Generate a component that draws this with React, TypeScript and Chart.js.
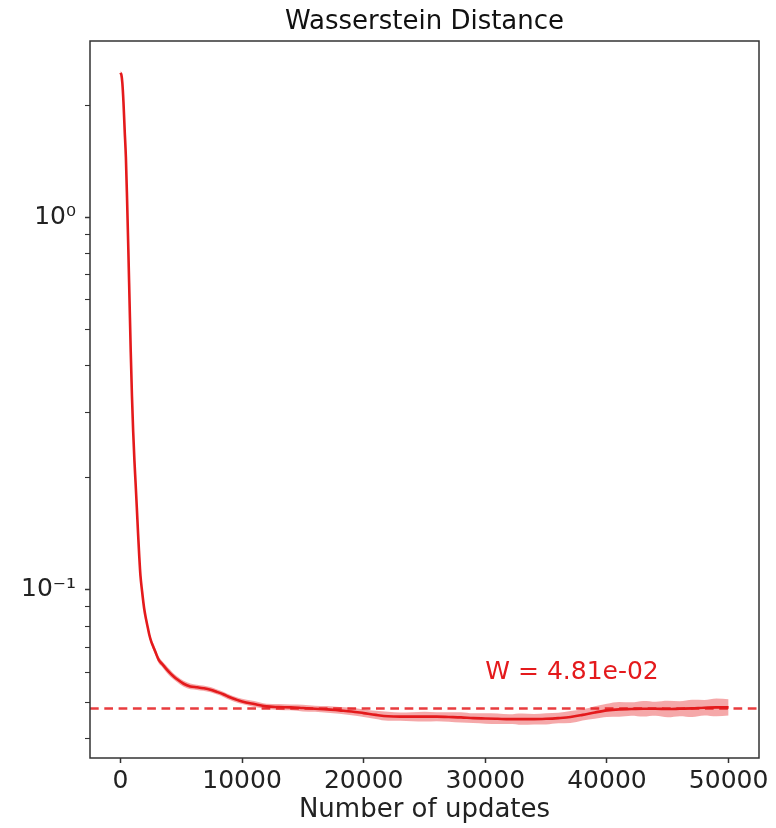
import React, { useEffect, useRef } from "react";
import { Chart, registerables } from "chart.js";

Chart.register(...registerables);

// ---- data ----
const updates = [
  0, 80, 160, 250, 350, 450, 550, 650, 750, 850, 950, 1050, 1150, 1250, 1350, 1450, 1550, 1650, 1780, 1950,
  2110, 2250, 2380, 2550, 2700, 2880, 3150, 3430, 3750, 4110, 4400, 4660, 5200, 5750, 6300, 6800, 7400, 7900,
  8500, 9000, 9500, 10000, 11000, 12000, 13000, 14000, 15000, 16000, 17000, 18000, 19000, 20000, 21000, 22000,
  23000, 24000, 25000, 26000, 27000, 28000, 29000, 30000, 31000, 32000, 33000, 34000, 35000, 36000, 37000,
  38000, 39000, 40000, 41000, 42000, 43000, 44000, 45000, 46000, 47000, 48000, 49000, 50000,
];

const wMean = [
  2.44, 2.41, 2.29, 2.04, 1.71, 1.45, 1.11, 0.823, 0.598, 0.435, 0.331, 0.266, 0.223, 0.193, 0.166, 0.142,
  0.123, 0.109, 0.0993, 0.0893, 0.0834, 0.0793, 0.0757, 0.0724, 0.0704, 0.0681, 0.0649, 0.0633, 0.0615, 0.0597,
  0.0585, 0.0576, 0.056, 0.0551, 0.0548, 0.0545, 0.054, 0.0533, 0.0524, 0.0515, 0.0508, 0.0502,
  0.0494, 0.0487, 0.0485, 0.0484, 0.0482, 0.048, 0.0478, 0.0475, 0.0472, 0.0467,
  0.0462, 0.0458, 0.0457, 0.0457, 0.0457, 0.0457, 0.0456, 0.0455, 0.0453, 0.0452,
  0.0451, 0.045, 0.045, 0.045, 0.0451, 0.0453, 0.0456, 0.0462, 0.0469, 0.0475,
  0.0478, 0.0479, 0.048, 0.048, 0.0479, 0.048, 0.0481, 0.0483, 0.0484, 0.0484,
];

// half-width of the shaded spread, in decades (log10 units)
const wSpreadLog = [
  0.006, 0.006, 0.006, 0.006, 0.006, 0.006, 0.006, 0.006, 0.006, 0.006, 0.006, 0.006, 0.006, 0.006, 0.006,
  0.006, 0.006, 0.006, 0.007, 0.008, 0.008, 0.008, 0.008, 0.008, 0.009, 0.009, 0.009, 0.008, 0.009, 0.009,
  0.008, 0.008, 0.008, 0.008, 0.007, 0.007, 0.007, 0.007, 0.007, 0.007, 0.007, 0.007,
  0.008, 0.007, 0.008, 0.008, 0.009, 0.008, 0.009, 0.009, 0.01, 0.01,
  0.011, 0.012, 0.011, 0.012, 0.013, 0.012, 0.013, 0.014, 0.013, 0.014,
  0.014, 0.013, 0.015, 0.014, 0.015, 0.014, 0.016, 0.015, 0.017, 0.018,
  0.02, 0.018, 0.021, 0.019, 0.022, 0.02, 0.023, 0.021, 0.024, 0.022,
];

const wFinal = 0.0481;
const wLabel = "W = 4.81e-02";
const wLabelX = 30000;
const wLabelY = 0.0577;

const xTickValues = [0, 10000, 20000, 30000, 40000, 50000];
const xMin = -2500;
const xMax = 52500;
const yMin = 0.0354;
const yMax = 2.97;
const yTickValues = [
  0.04, 0.05, 0.06, 0.07, 0.08, 0.09, 0.1, 0.2, 0.3, 0.4, 0.5, 0.6, 0.7, 0.8, 0.9, 1, 2,
];
const yMajorLabels: [number, string][] = [
  [1, "10⁰"],
  [0.1, "10⁻¹"],
];

const titleText = "Wasserstein Distance";
const xTitleText = "Number of updates";

const RED = "#e41a1c";
const FONT = "'DejaVu Sans', 'Liberation Sans', sans-serif";

export default function App() {
  const canvasRef = useRef<HTMLCanvasElement | null>(null);

  useEffect(() => {
    document.body.style.margin = "0";
    const canvas = canvasRef.current;
    if (!canvas) return;

    const meanPts = updates.map((x, i) => ({ x, y: wMean[i] }));
    const upperPts = updates.map((x, i) => ({ x, y: wMean[i] * Math.pow(10, wSpreadLog[i]) }));
    const lowerPts = updates.map((x, i) => ({ x, y: wMean[i] / Math.pow(10, wSpreadLog[i]) }));
    const finalPts = [
      { x: xMin, y: wFinal },
      { x: xMax, y: wFinal },
    ];

    const framePlugin = {
      id: "frameAndLabel",
      afterDatasetsDraw(chart: any) {
        const { ctx, chartArea, scales } = chart;
        ctx.save();
        const px = scales.x.getPixelForValue(wLabelX);
        const py = scales.y.getPixelForValue(wLabelY);
        ctx.font = `25px ${FONT}`;
        ctx.fillStyle = RED;
        ctx.textAlign = "left";
        ctx.textBaseline = "alphabetic";
        ctx.fillText(wLabel, px, py);
        ctx.strokeStyle = "#333333";
        ctx.lineWidth = 1.5;
        ctx.strokeRect(
          chartArea.left,
          chartArea.top,
          chartArea.right - chartArea.left,
          chartArea.bottom - chartArea.top
        );
        ctx.restore();
      },
    };

    const chart = new Chart(canvas, {
      type: "line",
      data: {
        datasets: [
          {
            label: "mean",
            data: meanPts,
            borderColor: RED,
            borderWidth: 2.6,
            pointRadius: 0,
            fill: false,
            cubicInterpolationMode: "monotone",
          },
          {
            label: "final",
            data: finalPts,
            borderColor: "rgba(228,26,28,0.85)",
            borderWidth: 2.5,
            borderDash: [8.7, 5.6],
            pointRadius: 0,
            fill: false,
          },
          {
            label: "lower",
            data: lowerPts,
            borderWidth: 0,
            borderColor: "rgba(0,0,0,0)",
            pointRadius: 0,
            fill: false,
            cubicInterpolationMode: "monotone",
          },
          {
            label: "upper",
            data: upperPts,
            borderWidth: 0,
            borderColor: "rgba(0,0,0,0)",
            backgroundColor: "rgba(228,26,28,0.38)",
            pointRadius: 0,
            fill: "-1",
            cubicInterpolationMode: "monotone",
          },
        ],
      } as any,
      options: {
        animation: false,
        responsive: false,
        maintainAspectRatio: false,
        devicePixelRatio: 1,
        layout: { padding: { left: 0, right: 17, top: 0, bottom: 0 } },
        plugins: {
          legend: { display: false },
          tooltip: { enabled: false },
          title: {
            display: true,
            text: titleText,
            fullSize: false,
            color: "#111111",
            font: { family: FONT, size: 26, weight: "normal" },
            padding: { top: 6.7, bottom: 3.1 },
          },
        },
        scales: {
          x: {
            type: "linear",
            min: xMin,
            max: xMax,
            afterBuildTicks: (scale: any) => {
              scale.ticks = xTickValues.map((v) => ({ value: v }));
            },
            afterFit: (scale: any) => {
              scale.height = 70;
            },
            border: { display: false },
            grid: {
              drawOnChartArea: false,
              drawTicks: true,
              tickLength: 5,
              tickColor: "#333333",
              tickWidth: 1.5,
            },
            ticks: {
              autoSkip: false,
              maxRotation: 0,
              padding: 3,
              color: "#222222",
              font: { family: FONT, size: 25 },
              callback: (v: any) => String(v),
            },
            title: {
              display: true,
              text: xTitleText,
              color: "#222222",
              font: { family: FONT, size: 26 },
              padding: { top: 0, bottom: 2.5 },
            },
          },
          y: {
            type: "logarithmic",
            min: yMin,
            max: yMax,
            afterBuildTicks: (scale: any) => {
              scale.ticks = yTickValues.map((v) => ({ value: v }));
            },
            afterFit: (scale: any) => {
              scale.width = 90;
            },
            border: { display: false },
            grid: {
              drawOnChartArea: false,
              drawTicks: true,
              tickLength: 5,
              tickColor: "#333333",
              tickWidth: (c: any) => {
                const v = c.tick ? c.tick.value : 0;
                return yMajorLabels.some(([m]) => Math.abs(m - v) < 1e-9) ? 1.5 : 1.1;
              },
            },
            ticks: {
              autoSkip: false,
              padding: 9,
              color: "#222222",
              font: { family: FONT, size: 25 },
              callback: (v: any) => {
                const hit = yMajorLabels.find(([m]) => Math.abs(m - Number(v)) < 1e-9);
                return hit ? hit[1] : "";
              },
            },
          },
        },
      } as any,
      plugins: [framePlugin],
    });

    return () => {
      chart.destroy();
    };
  }, []);

  return (
    <div style={{ width: 776, height: 828, background: "#ffffff" }}>
      <canvas ref={canvasRef} width={776} height={828} style={{ display: "block" }} />
    </div>
  );
}
